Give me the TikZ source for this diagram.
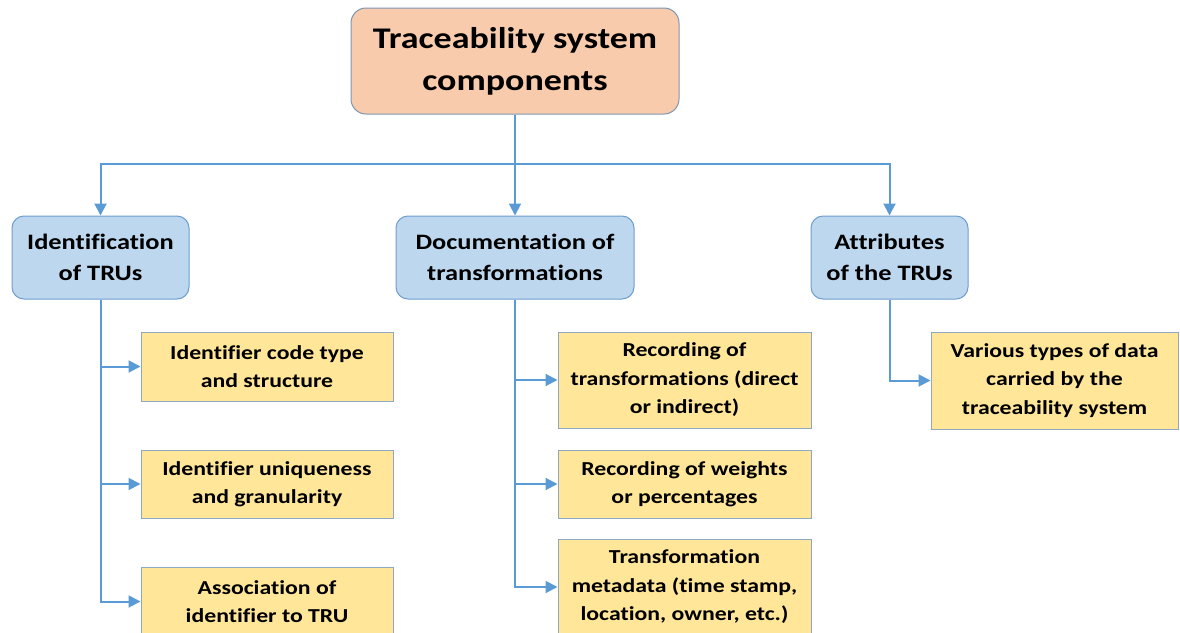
\documentclass[tikz,border=0pt]{standalone}
\usepackage{fontspec}
\setmainfont{Carlito}[FakeStretch=1.2, Ligatures=NoCommon]
\usetikzlibrary{arrows.meta}
\definecolor{topfill}{HTML}{F8CBAD}
\definecolor{topline}{HTML}{7F96B2}
\definecolor{bluefill}{HTML}{BDD7EE}
\definecolor{blueline}{HTML}{6E9DD0}
\definecolor{yelfill}{HTML}{FFE699}
\definecolor{yelline}{HTML}{8FA8C2}
\definecolor{conncol}{HTML}{5B9BD5}
\tikzset{
  topbox/.style={draw=topline, line width=1pt, fill=topfill, rounded corners=15pt,
    minimum width=328pt, minimum height=106pt, align=center, inner sep=0pt,
    font=\fontsize{30}{42}\selectfont\bfseries},
  bluebox/.style={draw=blueline, line width=1pt, fill=bluefill, rounded corners=12pt,
    minimum height=83pt, align=center, inner sep=0pt,
    font=\fontsize{22}{31}\selectfont\bfseries},
  yelbox/.style={draw=yelline, line width=1pt, fill=yelfill,
    minimum width=252pt, align=center, inner sep=0pt,
    font=\fontsize{19.8}{28.5}\selectfont\bfseries},
  conn/.style={draw=conncol, line width=2pt},
  arr/.style={conn, -{Triangle[length=12pt,width=12pt]}},
}
\begin{document}
\begin{tikzpicture}[x=1pt,y=-1pt]
\useasboundingbox (0,0) rectangle (1180,632);
\clip (0,0) rectangle (1180,632);
\fill[white] (0,0) rectangle (1180,632);
% top
\node[topbox] (top) at (515,61) {Traceability system\\components};
% blue
\node[bluebox, minimum width=177pt] (b1) at (100.5,257.5) {Identification\\of TRUs};
\node[bluebox, minimum width=238pt] (b2) at (515,257.5) {Documentation of\\transformations};
\node[bluebox, minimum width=157pt] (b3) at (889.5,257.5) {Attributes\\of the TRUs};
% yellow left
\node[yelbox, minimum height=69pt] (y1) at (267,366.5) {Identifier code type\\and structure};
\node[yelbox, minimum height=68pt] (y2) at (267,484) {Identifier uniqueness\\and granularity};
\node[yelbox, minimum height=69pt] (y3) at (267,601.5) {Association of\\identifier to TRU};
% yellow middle
\node[yelbox, minimum width=253pt, minimum height=96pt] (m1) at (684.5,380) {Recording of\\transformations (direct\\or indirect)};
\node[yelbox, minimum width=253pt, minimum height=68pt] (m2) at (684.5,484) {Recording of weights\\or percentages};
\node[yelbox, minimum width=253pt, minimum height=96pt] (m3) at (684.5,587) {Transformation\\metadata (time stamp,\\location, owner, etc.)};
% yellow right
\node[yelbox, minimum width=247pt, minimum height=97pt] (r1) at (1054.5,380.5) {Various types of data\\carried by the\\traceability system};
% connectors
\coordinate (hub) at (515,164);
\draw[conn] (top.south) -- (hub);
\draw[arr] (hub) -| (b1.north);
\draw[arr] (hub) -| (b3.north);
\draw[arr] (hub) -- (b2.north);
\draw[arr] (b1.south) |- (y1.west);
\draw[arr] (b1.south) |- (y2.west);
\draw[arr] (b1.south) |- (y3.west);
\draw[arr] (b2.south) |- (m1.west);
\draw[arr] (b2.south) |- (m2.west);
\draw[arr] (b2.south) |- (m3.west);
\draw[arr] (b3.south) |- (r1.west);
\end{tikzpicture}
\end{document}
